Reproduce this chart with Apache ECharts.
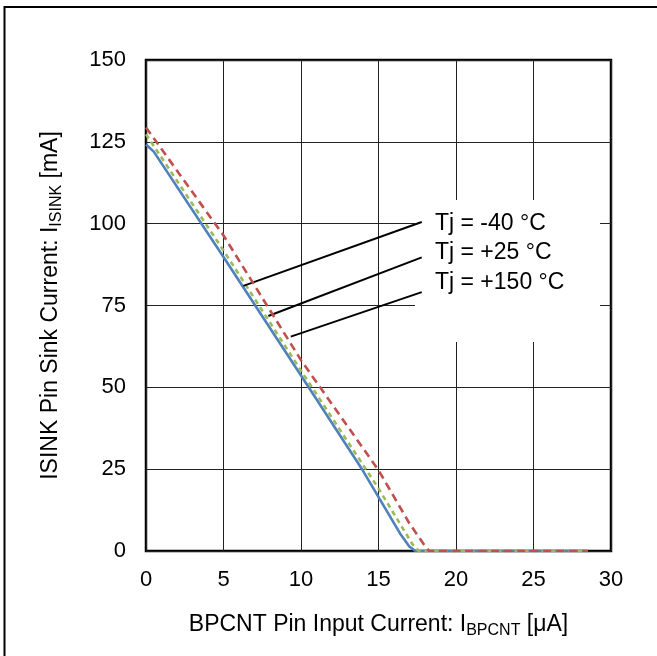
<!DOCTYPE html>
<html>
<head>
<meta charset="utf-8">
<script src="https://cdn.jsdelivr.net/npm/echarts@6/dist/echarts.min.js"></script>
<style>
html,body{margin:0;padding:0;background:#fff;}
#c{width:657px;height:656px;}
</style>
</head>
<body>
<div id="c"></div>
<script>
// ---- data ----
var seriesNames = ['Tj = -40 °C', 'Tj = +25 °C', 'Tj = +150 °C'];
var xM40  = [0, 0.5, 5, 10, 14, 16.4, 17.0, 17.4, 28.5];
var yM40  = [124.2, 122.0, 89.8, 53.6, 24.5, 5.3, 1.3, 0, 0];
var xP25  = [0, 5, 10, 15, 17.2, 17.6, 28.5];
var yP25  = [127.3, 91.8, 55.1, 19.1, 2.0, 0, 0];
var xP150 = [0, 5, 10, 15, 17.0, 17.9, 18.25, 28.5];
var yP150 = [129.4, 96.4, 58.3, 24.7, 8.4, 2.2, 0, 0];
// leader lines: [curve point], [label end]
var leaderM40  = [[6.28, 81.0], [17.79, 100.5]];
var leaderP25  = [[7.89, 71.8], [17.79, 89.7]];
var leaderP150 = [[9.34, 65.5], [17.79, 79.1]];
var xTicks = [0, 5, 10, 15, 20, 25, 30];
var yTicks = [0, 25, 50, 75, 100, 125, 150];

function pairs(xs, ys) { return xs.map(function (x, i) { return [x, ys[i]]; }); }
function leader(l) {
  return {
    silent: true, symbol: 'none', animation: false,
    label: { show: false },
    lineStyle: { color: '#000', width: 2, type: 'solid' },
    emphasis: { disabled: true },
    data: [[{ coord: l[0] }, { coord: l[1] }]]
  };
}

var FONT = '"Liberation Sans", Arial, sans-serif';
var titleRich = {
  a: { fontSize: 23, fontFamily: FONT, color: '#000', lineHeight: 28 },
  s: { fontSize: 16, fontFamily: FONT, color: '#000', lineHeight: 28, padding: [12, 0, 0, 0] }
};
var chart = echarts.init(document.getElementById('c'), null, { renderer: 'canvas' });
chart.setOption({
  animation: false,
  backgroundColor: '#fff',
  grid: { left: 146, top: 60, right: 46, bottom: 105, show: true, borderColor: '#000', borderWidth: 2.5, backgroundColor: 'transparent' },
  xAxis: {
    type: 'value', min: xTicks[0], max: xTicks[xTicks.length - 1], interval: 5,
    axisLine: { show: false }, axisTick: { show: false },
    splitLine: { show: true, lineStyle: { color: '#222', width: 1 } },
    axisLabel: { color: '#000', fontSize: 22, fontFamily: FONT, margin: 18 },
    name: '{a|BPCNT Pin Input Current: I}{s|BPCNT}{a| [μA]}',
    nameLocation: 'middle', nameGap: 60,
    nameTextStyle: { color: '#000', fontFamily: FONT, rich: titleRich }
  },
  yAxis: {
    type: 'value', min: yTicks[0], max: yTicks[yTicks.length - 1], interval: 25,
    axisLine: { show: false }, axisTick: { show: false },
    splitLine: { show: true, lineStyle: { color: '#222', width: 1 } },
    axisLabel: { color: '#000', fontSize: 22, fontFamily: FONT, margin: 20 },
    name: '{a|ISINK Pin Sink Current: I}{s|ISINK}{a| [mA]}',
    nameLocation: 'middle', nameGap: 81, nameRotate: 90,
    nameTextStyle: { color: '#000', fontFamily: FONT, rich: titleRich }
  },
  graphic: [
    { type: 'rect', z: 100, silent: true, shape: { x: 4.5, y: 7, width: 700, height: 700 },
      style: { fill: 'none', stroke: '#000', lineWidth: 2 } },
    { type: 'rect', z: 1, silent: true, shape: { x: 415, y: 200, width: 185, height: 142 },
      style: { fill: '#fff', stroke: 'none' } },
    { type: 'text', z: 10, silent: true, left: 435, top: 212,
      style: { text: seriesNames[0], fill: '#000', font: '23px ' + FONT } },
    { type: 'text', z: 10, silent: true, left: 435, top: 241,
      style: { text: seriesNames[1], fill: '#000', font: '23px ' + FONT } },
    { type: 'text', z: 10, silent: true, left: 435, top: 271,
      style: { text: seriesNames[2], fill: '#000', font: '23px ' + FONT } }
  ],
  series: [
    { name: seriesNames[0], type: 'line', data: pairs(xM40, yM40), showSymbol: false, smooth: false,
      lineStyle: { color: '#4F81BD', width: 2.6 }, itemStyle: { color: '#4F81BD' }, z: 3,
      markLine: leader(leaderM40) },
    { name: seriesNames[1], type: 'line', data: pairs(xP25, yP25), showSymbol: false, smooth: false,
      lineStyle: { color: '#9BBB59', width: 2.6, type: [5, 4] }, itemStyle: { color: '#9BBB59' }, z: 4,
      markLine: leader(leaderP25) },
    { name: seriesNames[2], type: 'line', data: pairs(xP150, yP150), showSymbol: false, smooth: false,
      lineStyle: { color: '#C0504D', width: 2.6, type: [8, 5] }, itemStyle: { color: '#C0504D' }, z: 5,
      markLine: leader(leaderP150) }
  ]
});
</script>
</body>
</html>
